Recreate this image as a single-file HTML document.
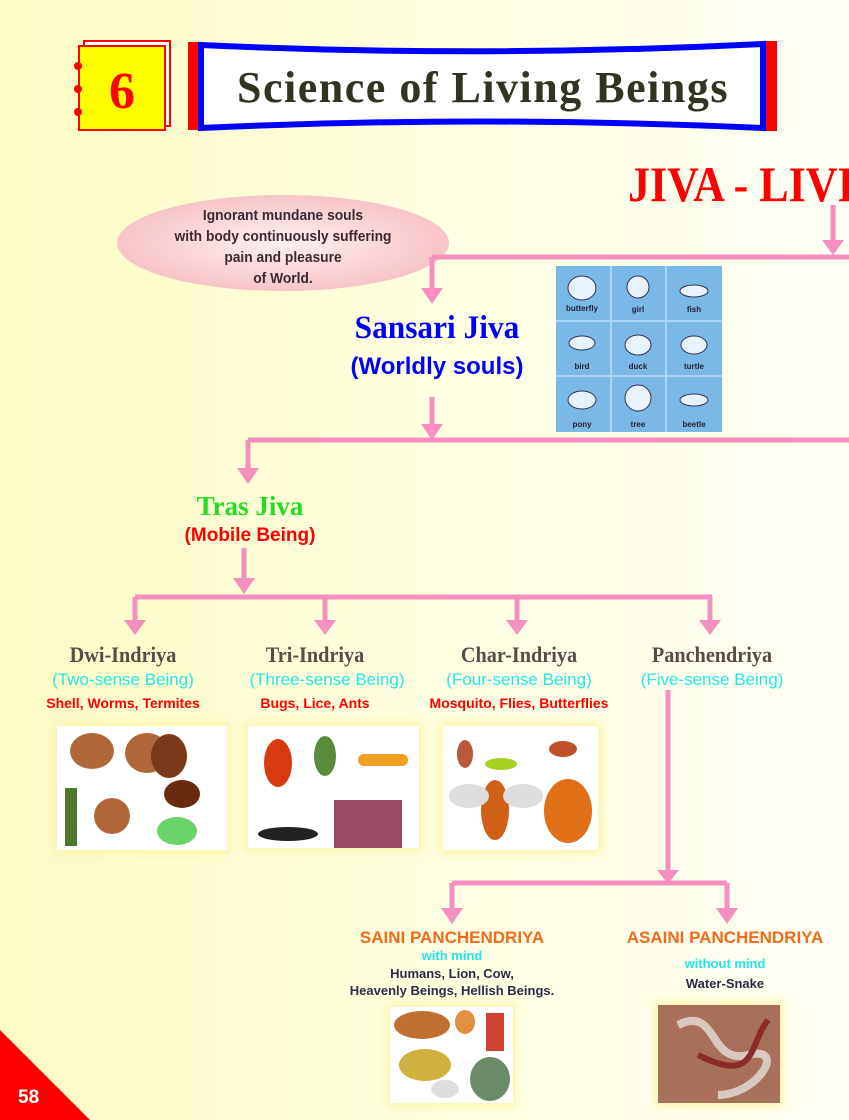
<!DOCTYPE html>
<html><head><meta charset="utf-8"><style>
html,body{margin:0;padding:0}
body{width:849px;height:1120px;position:relative;overflow:hidden;background:linear-gradient(90deg,#fdfcc4 0%,#fefee0 50%,#fffff4 100%);font-family:"Liberation Sans",sans-serif}
.t{position:absolute;white-space:nowrap;text-align:center;transform:translateX(-50%)}
.serif{font-family:"Liberation Serif",serif;font-weight:bold}
.b{font-weight:bold}
.img{position:absolute;background:#fff;box-shadow:0 0 8px 4px #fbf6b0}
</style></head><body>
<svg width="849" height="1120" style="position:absolute;left:0;top:0">
<defs><radialGradient id="eg" cx="50%" cy="50%" r="50%"><stop offset="0" stop-color="#fff0f0"/><stop offset="1" stop-color="#f7c4c8"/></radialGradient></defs>
<rect x="84" y="41" width="86" height="85" fill="#fff" stroke="#f00" stroke-width="2"/>
<rect x="79" y="46" width="86" height="84" fill="#ff0" stroke="#f00" stroke-width="2"/>
<circle cx="78" cy="66" r="4" fill="#f00"/><circle cx="78" cy="89" r="4" fill="#f00"/><circle cx="78" cy="112" r="4" fill="#f00"/>
<text x="122" y="108" font-family="Liberation Serif" font-size="52" font-weight="bold" fill="#f00" text-anchor="middle">6</text>
<rect x="188" y="42" width="12" height="88" fill="#f00"/>
<rect x="764" y="41" width="13" height="90" fill="#f00"/>
<path d="M201 45 Q480 58 763 44 L763 128 Q480 115 201 128 Z" fill="#fff" stroke="#00f" stroke-width="6"/>
<text x="483" y="102" font-family="Liberation Serif" font-size="44" font-weight="bold" fill="#333322" text-anchor="middle" letter-spacing="1.5">Science of Living Beings</text>
<ellipse cx="283" cy="243" rx="166" ry="48" fill="url(#eg)"/>
<g stroke="#f48fc0" stroke-width="5" fill="none">
<path d="M833 205V245M432 257H849M432 257V292M432 397V428M248 440H849M248 440V470M244 548V582M135 597H712M135 597V622M325 597V622M517 597V622M710 597V622M668 690V872M452 883H727M452 883V912M727 883V912"/>
</g>
<g fill="#f48fc0">
<path d="M822 240h22l-11 15z"/><path d="M421 288h22l-11 16z"/><path d="M421 424h22l-11 16z"/><path d="M237 468h22l-11 16z"/><path d="M233 578h22l-11 16z"/>
<path d="M124 620h22l-11 15z"/><path d="M314 620h22l-11 15z"/><path d="M506 620h22l-11 15z"/><path d="M699 620h22l-11 15z"/>
<path d="M657 870h22l-11 14z"/><path d="M441 908h22l-11 16z"/><path d="M716 908h22l-11 16z"/>
</g>
<path d="M0 1030L90 1120H0Z" fill="#f00"/>
<rect x="556" y="266" width="166" height="166" fill="#7ab8e8"/>
<g stroke="#a9d4f5" stroke-width="2"><path d="M611 266V432M666 266V432M556 321H722M556 376H722"/></g>
<g font-family="Liberation Sans" font-size="8" font-weight="bold" fill="#223" text-anchor="middle">
<text x="582" y="311">butterfly</text><text x="638" y="312">girl</text><text x="694" y="312">fish</text>
<text x="582" y="369">bird</text><text x="638" y="369">duck</text><text x="694" y="369">turtle</text>
<text x="582" y="427">pony</text><text x="638" y="427">tree</text><text x="694" y="427">beetle</text></g>
<g fill="#e8f2fa" stroke="#335" stroke-width="1">
<ellipse cx="582" cy="288" rx="14" ry="12"/><circle cx="638" cy="287" r="11"/><ellipse cx="694" cy="291" rx="14" ry="6"/>
<ellipse cx="582" cy="343" rx="13" ry="7"/><ellipse cx="638" cy="345" rx="13" ry="10"/><ellipse cx="694" cy="345" rx="13" ry="9"/>
<ellipse cx="582" cy="400" rx="14" ry="9"/><circle cx="638" cy="398" r="13"/><ellipse cx="694" cy="400" rx="14" ry="6"/></g>
</svg>

<div class="serif" style="position:absolute;left:628px;top:155px;font-size:50px;color:#f00;white-space:nowrap;transform:scaleX(0.88);transform-origin:0 0">JIVA - LIVI</div>
<div class="t b" style="left:283px;top:205px;font-size:15px;line-height:21px;color:#3a2a33;transform:translateX(-50%) scaleX(0.92)">Ignorant mundane souls<br>with body continuously suffering<br>pain and pleasure<br>of World.</div>
<div class="t serif" style="left:437px;top:310px;font-size:33px;color:#00f;transform:translateX(-50%) scaleX(0.95)">Sansari Jiva</div>
<div class="t b" style="left:437px;top:353px;font-size:24px;color:#00f">(Worldly souls)</div>
<div class="t serif" style="left:250px;top:491px;font-size:27px;color:#22dd22">Tras Jiva</div>
<div class="t b" style="left:250px;top:525px;font-size:19px;color:#f00">(Mobile Being)</div>

<div class="t serif" style="left:123px;top:642px;font-size:22px;color:#5a4a4a;transform:translateX(-50%) scaleX(0.92)">Dwi-Indriya</div>
<div class="t serif" style="left:315px;top:642px;font-size:22px;color:#5a4a4a;transform:translateX(-50%) scaleX(0.92)">Tri-Indriya</div>
<div class="t serif" style="left:519px;top:642px;font-size:22px;color:#5a4a4a;transform:translateX(-50%) scaleX(0.92)">Char-Indriya</div>
<div class="t serif" style="left:712px;top:642px;font-size:22px;color:#5a4a4a;transform:translateX(-50%) scaleX(0.92)">Panchendriya</div>
<div class="t" style="left:123px;top:670px;font-size:17px;color:#22e8ee">(Two-sense Being)</div>
<div class="t" style="left:327px;top:670px;font-size:17px;color:#22e8ee">(Three-sense Being)</div>
<div class="t" style="left:519px;top:670px;font-size:17px;color:#22e8ee">(Four-sense Being)</div>
<div class="t" style="left:712px;top:670px;font-size:17px;color:#22e8ee">(Five-sense Being)</div>
<div class="t b" style="left:123px;top:695px;font-size:14px;color:#f00">Shell, Worms, Termites</div>
<div class="t b" style="left:315px;top:695px;font-size:14px;color:#f00">Bugs, Lice, Ants</div>
<div class="t b" style="left:519px;top:695px;font-size:14px;color:#f00">Mosquito, Flies, Butterflies</div>

<div class="img" style="left:57px;top:726px;width:170px;height:124px">
<svg width="170" height="124"><g fill="#b0683a"><ellipse cx="35" cy="25" rx="22" ry="18"/><ellipse cx="90" cy="27" rx="22" ry="20"/><ellipse cx="112" cy="30" rx="18" ry="22" fill="#7a3a1a"/><rect x="8" y="62" width="12" height="58" fill="#4a7a2a"/><ellipse cx="55" cy="90" rx="18" ry="18"/><ellipse cx="125" cy="68" rx="18" ry="14" fill="#6a2a10"/><ellipse cx="120" cy="105" rx="20" ry="14" fill="#6ad46a"/></g></svg></div>
<div class="img" style="left:248px;top:726px;width:171px;height:122px">
<svg width="171" height="122"><ellipse cx="30" cy="37" rx="14" ry="24" fill="#d83a10"/><ellipse cx="77" cy="30" rx="11" ry="20" fill="#5a8a3a"/><rect x="110" y="28" width="50" height="12" rx="6" fill="#f0a020"/><ellipse cx="40" cy="108" rx="30" ry="7" fill="#222"/><rect x="86" y="74" width="68" height="48" fill="#9a4a64"/></svg></div>
<div class="img" style="left:443px;top:726px;width:155px;height:124px">
<svg width="155" height="124"><ellipse cx="22" cy="28" rx="8" ry="14" fill="#b85a3a"/><ellipse cx="120" cy="23" rx="14" ry="8" fill="#c0502a"/><ellipse cx="58" cy="38" rx="16" ry="6" fill="#a8d020"/><ellipse cx="52" cy="84" rx="14" ry="30" fill="#d06018"/><ellipse cx="26" cy="70" rx="20" ry="12" fill="#ddd"/><ellipse cx="80" cy="70" rx="20" ry="12" fill="#ddd"/><ellipse cx="125" cy="85" rx="24" ry="32" fill="#e07018"/></svg></div>

<div class="t b" style="left:452px;top:928px;font-size:17px;color:#f26a1b">SAINI PANCHENDRIYA</div>
<div class="t b" style="left:452px;top:948px;font-size:13px;color:#22e8ee">with mind</div>
<div class="t b" style="left:452px;top:965px;font-size:13px;line-height:17px;color:#2a2a4a">Humans, Lion, Cow,<br>Heavenly Beings, Hellish Beings.</div>
<div class="t b" style="left:725px;top:928px;font-size:17px;color:#f26a1b">ASAINI PANCHENDRIYA</div>
<div class="t b" style="left:725px;top:956px;font-size:13px;color:#22e8ee">without mind</div>
<div class="t b" style="left:725px;top:976px;font-size:13px;color:#2a2a4a">Water-Snake</div>

<div class="img" style="left:390px;top:1007px;width:123px;height:96px">
<svg width="123" height="96"><ellipse cx="32" cy="18" rx="28" ry="14" fill="#c07030"/><ellipse cx="75" cy="15" rx="10" ry="12" fill="#e09040"/><rect x="96" y="6" width="18" height="38" fill="#d04030"/><ellipse cx="35" cy="58" rx="26" ry="16" fill="#d0b040"/><ellipse cx="100" cy="72" rx="20" ry="22" fill="#6a8a6a"/><ellipse cx="55" cy="82" rx="14" ry="9" fill="#ddd"/></svg></div>
<div class="img" style="left:658px;top:1005px;width:122px;height:98px;background:#a8705a">
<svg width="122" height="98"><path d="M20 20 C60 0 50 60 90 50 S100 90 60 90" stroke="#d8c8c0" stroke-width="8" fill="none"/><path d="M110 15 C90 40 100 80 40 50" stroke="#8a2a2a" stroke-width="6" fill="none"/></svg></div>

<div style="position:absolute;left:18px;top:1087px;font-size:19px;font-weight:bold;color:#fff">58</div>
</body></html>
